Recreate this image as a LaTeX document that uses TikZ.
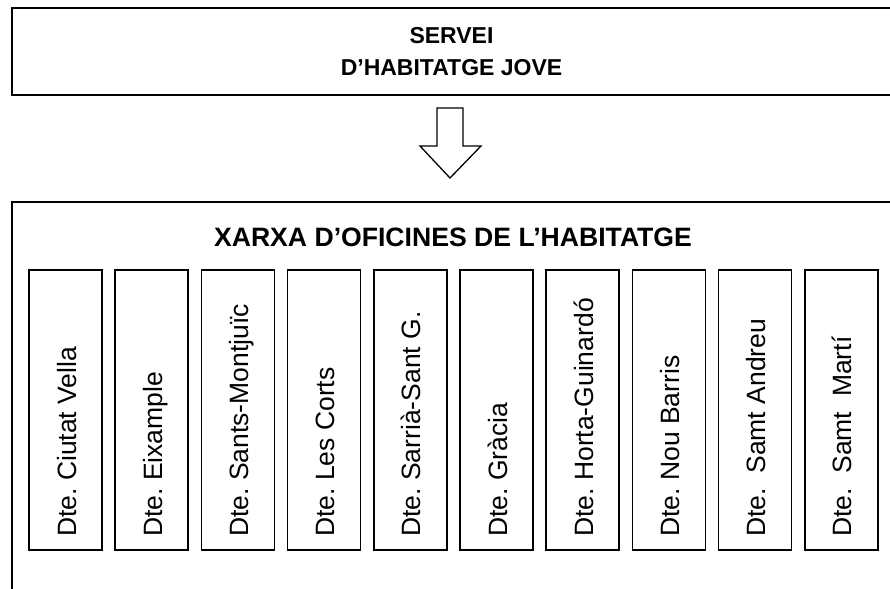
\documentclass[tikz,border=0pt]{standalone}
\usepackage{fontspec}
\setmainfont{Liberation Sans}
\usetikzlibrary{calc}
\frenchspacing
\begin{document}
\begin{tikzpicture}[x=1pt,y=-1pt,
  box/.style={draw,line width=1.6pt,inner sep=0pt},
  dist/.style={draw,line width=1.6pt,minimum width=73pt,minimum height=280pt,inner sep=0pt},
  lbl/.style={rotate=90,anchor=base west,inner sep=0pt,font=\fontsize{26.5}{30}\selectfont},
  blockarrow/.style={draw,line width=1.3pt,line join=miter,fill=white}]
\useasboundingbox (0,0) rectangle (890,588);
\node[box,minimum width=879pt,minimum height=87pt,align=center,
      font=\bfseries\fontsize{23}{32}\selectfont] (servei) at (451.5,51.5)
      {SERVEI\\D’HABITATGE JOVE};
\node[box,minimum width=879pt,minimum height=398pt] (xarxa) at (451.5,401) {};
\node[anchor=base,inner sep=0pt,font=\bfseries\fontsize{26.6}{30}\selectfont] (titol) at (453,246.7)
      {XARXA D’OFICINES DE L’HABITATGE};
\coordinate (atop) at (450,108);
\draw[blockarrow] ($(atop)+(-13,0)$) -- ($(atop)+(13,0)$) -- ($(atop)+(13,38)$) -- ($(atop)+(31,38)$)
  -- ($(atop)+(0,70)$) -- ($(atop)+(-30,38)$) -- ($(atop)+(-13,38)$) -- cycle;
\foreach \i/\t in {0/{Dte. Ciutat Vella},1/{Dte. Eixample},2/{Dte. Sants-Montjuïc},
   3/{Dte. Les Corts},4/{Dte. Sarrià-Sant G.},5/{Dte. Gràcia},6/{Dte. Horta-Guinardó},
   7/{Dte. Nou Barris},8/{Dte.\ \ Samt Andreu},9/{Dte.\ \ Samt\ \ Martí}}{
  \node[dist] (d\i) at (65.5+86.2*\i,410) {};
  \node[lbl] (t\i) at (76+86.2*\i,537) {\t};
}
\end{tikzpicture}
\end{document}
